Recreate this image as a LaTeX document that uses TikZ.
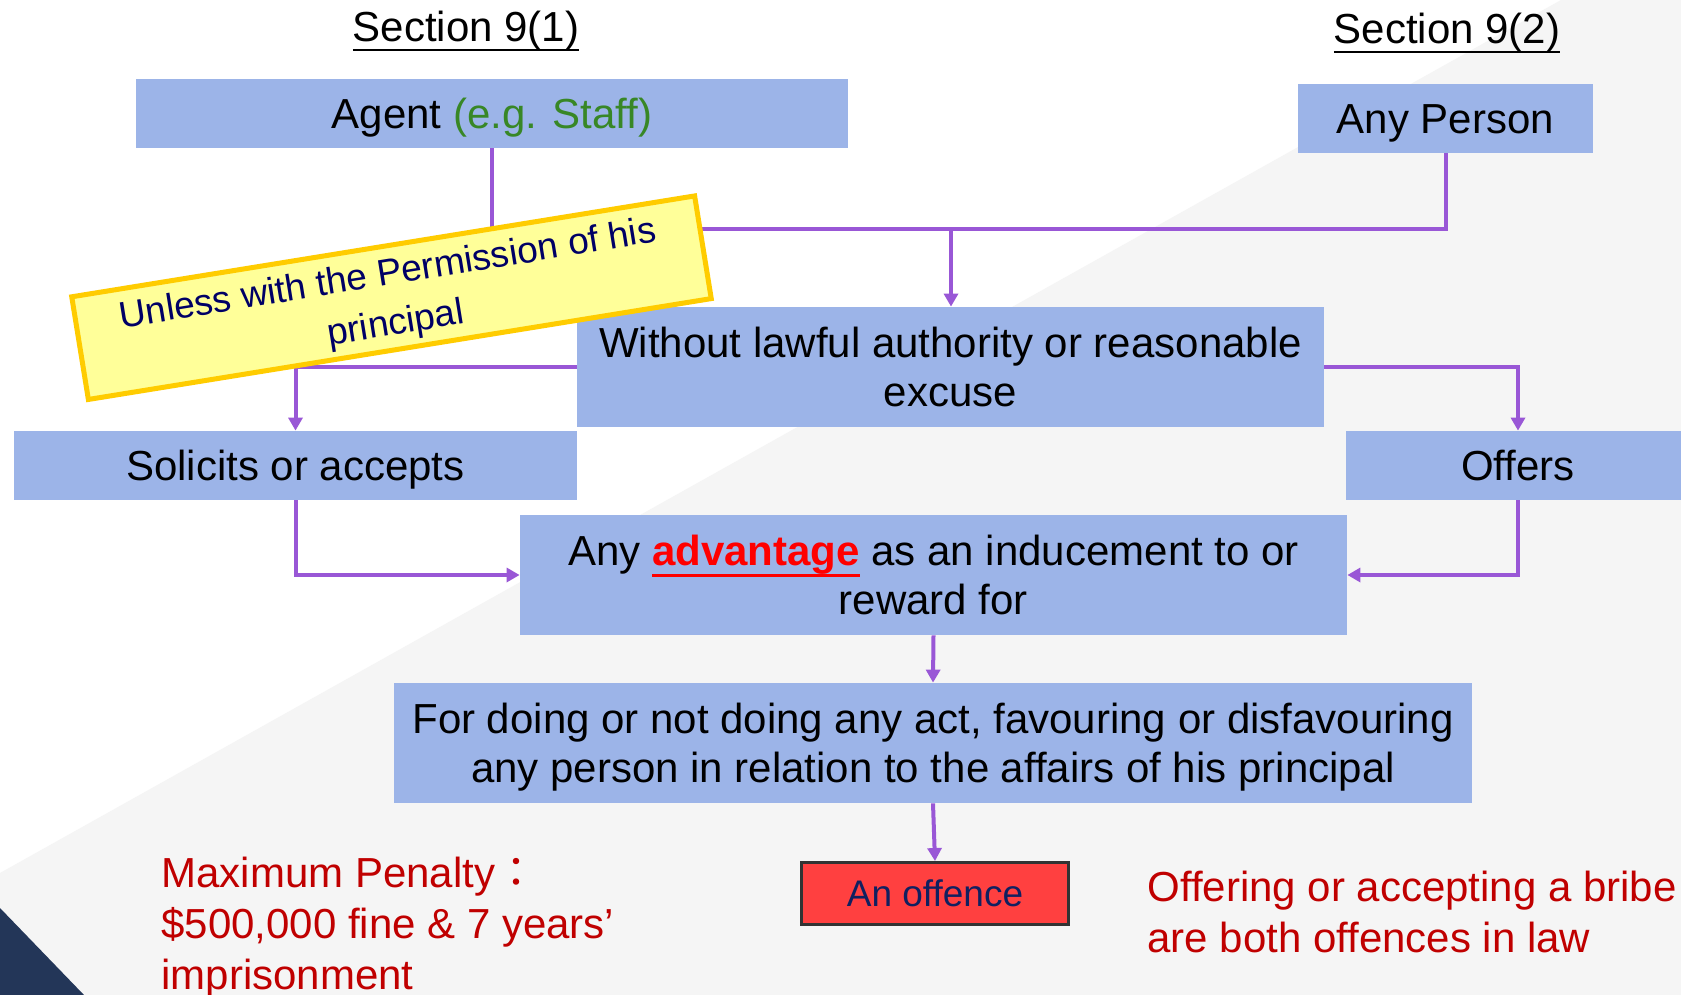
\documentclass[tikz,border=0pt]{standalone}
\usepackage{fontspec}
\setmainfont{Liberation Sans}
\newfontfamily\cjkfont{Noto Sans CJK TC}
\usetikzlibrary{arrows.meta}

\definecolor{boxblue}{RGB}{156,180,232}
\definecolor{linkpurple}{RGB}{153,87,214}
\definecolor{notefill}{RGB}{255,255,153}
\definecolor{noteborder}{RGB}{255,204,0}
\definecolor{notetext}{RGB}{0,0,102}
\definecolor{staffgreen}{RGB}{56,135,38}
\definecolor{advred}{RGB}{255,0,0}
\definecolor{penaltyred}{RGB}{192,0,0}
\definecolor{offencefill}{RGB}{255,64,64}
\definecolor{offenceborder}{RGB}{51,51,51}
\definecolor{offencetext}{RGB}{16,32,96}
\definecolor{bggrey}{RGB}{245,245,245}
\definecolor{cornernavy}{RGB}{35,54,88}

% font sizes (Arial-like metrics: ascent .905em, descent .212em)
\newcommand\boxfont{\fontsize{21}{24.5}\selectfont}
\newcommand\smallfont{\fontsize{18.5}{21}\selectfont}
\newcommand\notefont{\fontsize{18.5}{25}\selectfont}
\newcommand\redfont{\fontsize{21}{25.3}\selectfont}
% struts fixing the height and depth of the text block
\newcommand\bstrut{\rule[-4.45pt]{0pt}{23.45pt}}
\newcommand\bstruttwo{\rule[-4.45pt]{0pt}{47.95pt}}
\newcommand\sstrut{\rule[-3.92pt]{0pt}{20.66pt}}
\newcommand\nstrut{\rule[-3.92pt]{0pt}{45pt}}
% underline with chosen offset and thickness, in the current colour
\newcommand\ulbox[3]{\sbox0{#3}\rlap{\rule[#1]{\wd0}{#2}}\usebox0}

\begin{document}
\begin{tikzpicture}[x=0.5pt,y=-0.5pt,
  box/.style={fill=boxblue, draw=none, inner sep=0pt, align=center,
    font=\boxfont, execute at begin node=\bstrut, execute at end node=\bstrut},
  tallbox/.style={box, execute at begin node=\bstruttwo},
  offencebox/.style={fill=offencefill, draw=offenceborder, line width=1.65pt,
    inner sep=0pt, font=\smallfont, text=offencetext,
    execute at begin node=\sstrut},
  notebox/.style={fill=notefill, draw=noteborder, line width=2.5pt,
    inner sep=0pt, align=center, font=\notefont, text=notetext,
    execute at begin node=\nstrut, execute at end node=\sstrut},
  heading/.style={inner sep=0pt, font=\boxfont, anchor=base},
  redtext/.style={inner sep=0pt, font=\redfont, text=penaltyred, align=left,
    anchor=north west, execute at begin node=\bstrut},
  link/.style={draw=linkpurple, line width=2pt},
  arrow/.style={link, -{Triangle[width=7pt,length=6.5pt]}}
]
\useasboundingbox (0,0) rectangle (1681,995);
\clip (0,0) rectangle (1681,995);

% background
\fill[white] (0,0) rectangle (1681,995);
\fill[bggrey] (1561,0) -- (1681,0) -- (1681,995) -- (0,995) -- (0,873) -- cycle;
\fill[cornernavy] (0,908) -- (84,995) -- (0,995) -- cycle;

% headings
\node[heading] (sec1) at (466,42) {\ulbox{-4.5pt}{1.2pt}{Section 9(1)}};
\node[heading] (sec2) at (1447,44) {\ulbox{-4.5pt}{1.2pt}{Section 9(2)}};

% boxes
\node[box, minimum width=356pt, minimum height=34.5pt] (agent) at (492,113.5)
  {Agent {\color{staffgreen}(e.g. Staff)}};
\node[box, minimum width=147.5pt, minimum height=34.5pt] (anyp) at (1445.5,118.5)
  {Any Person};
\node[tallbox, minimum width=373.5pt, minimum height=60pt] (without) at (950.5,367)
  {Without lawful authority or reasonable\\excuse};
\node[box, minimum width=281.5pt, minimum height=34.5pt] (solicit) at (295.5,465.5)
  {Solicits or accepts};
\node[box, minimum width=172pt, minimum height=34.5pt] (offers) at (1518,465.5)
  {Offers};
\node[tallbox, minimum width=413.5pt, minimum height=60pt] (adv) at (933.5,575)
  {Any {\color{advred}\bfseries\ulbox{-6pt}{1.5pt}{advantage}} as an inducement to or\\reward for};
\node[tallbox, minimum width=539pt, minimum height=60pt] (forbox) at (933,743)
  {For doing or not doing any act, favouring or disfavouring\\any person in relation to the affairs of his principal};
\node[offencebox, minimum width=133.3pt, minimum height=30.8pt] (offence) at (935,893.5)
  {An offence};

% connectors
\coordinate (jn) at (951,229);
\draw[link] (agent.south) |- (jn);
\draw[link] (anyp.south) |- (jn);
\draw[arrow] (jn) -- (jn |- without.north);
\draw[arrow] (without.west) -| (solicit.north);
\draw[arrow] (without.east) -| (offers.north);
\draw[arrow] (solicit.south) |- (adv.west);
\draw[arrow] (offers.south) |- (adv.east);
\draw[arrow] (adv.south) -- (forbox.north);
\draw[arrow] (forbox.south) -- (offence.north);

% rotated note over the connectors
\node[notebox, rotate=9.2, minimum width=315.5pt, minimum height=52pt] (note) at (391.5,297.7)
  {Unless with the Permission of his\\principal};

% remarks
\node[redtext] (penalty) at (161,857)
  {Maximum Penalty{\cjkfont ：}\\\$500,000 fine \& 7 years’\\imprisonment};
\node[redtext] (remark) at (1147,871)
  {Offering or accepting a bribe\\are both offences in law};
\end{tikzpicture}
\end{document}
